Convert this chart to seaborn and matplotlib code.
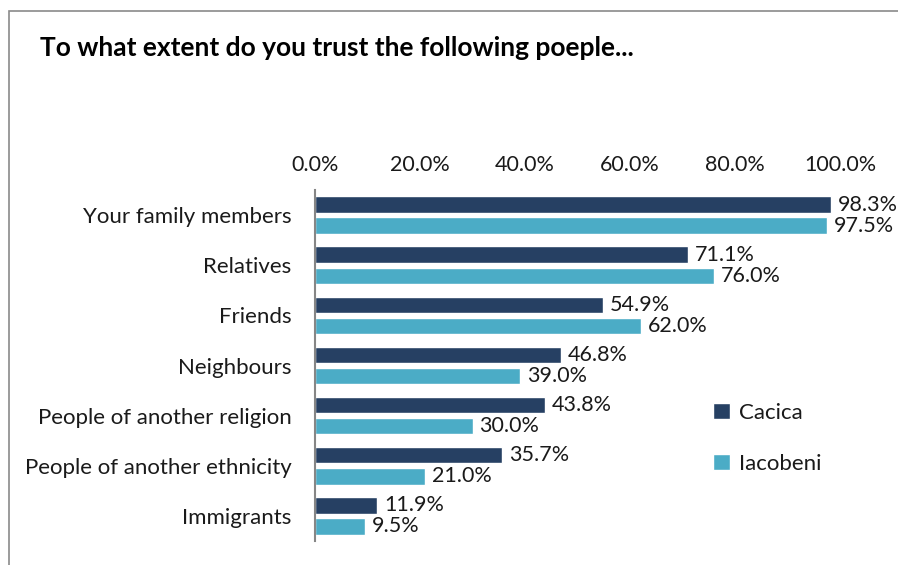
import matplotlib
matplotlib.use("Agg")
import matplotlib.pyplot as plt
import seaborn as sns
import pandas as pd
from matplotlib.patches import Rectangle

categories = ["Your family members", "Relatives", "Friends", "Neighbours",
              "People of another religion", "People of another ethnicity", "Immigrants"]
cacica = [98.3, 71.1, 54.9, 46.8, 43.8, 35.7, 11.9]
iacobeni = [97.5, 76.0, 62.0, 39.0, 30.0, 21.0, 9.5]
series = ["Cacica", "Iacobeni"]
colors = ["#264063", "#4BACC6"]
xticks = [0, 20, 40, 60, 80, 100]
title = "To what extent do you trust the following poeple..."

sns.set_theme(style="white")
plt.rcParams["font.family"] = ["Lato", "DejaVu Sans"]

df = pd.DataFrame({
    "category": categories * 2,
    "value": cacica + iacobeni,
    "series": [series[0]] * len(categories) + [series[1]] * len(categories),
})

fig = plt.figure(figsize=(8.98, 5.65), dpi=100)
ax = fig.add_axes([315 / 898, 1 - 541 / 565, (840 - 315) / 898, (541 - 190) / 565])

sns.barplot(data=df, y="category", x="value", hue="series", order=categories,
            hue_order=series, palette=colors, orient="h", width=0.84, gap=0.22,
            saturation=1, ax=ax, legend=True)

ax.set_xlim(0, 100)
ax.set_ylim(len(categories) - 0.5, -0.5)
ax.set_xticks(xticks)
ax.set_xticklabels([f"{v:.1f}%" for v in xticks])
ax.xaxis.tick_top()
ax.tick_params(axis="x", length=0, pad=11, labelsize=15.5, colors="#1a1a1a")
ax.tick_params(axis="y", length=0, pad=17, labelsize=16, colors="#1a1a1a")
ax.set_xlabel("")
ax.set_ylabel("")
for s in ["top", "right", "bottom"]:
    ax.spines[s].set_visible(False)
ax.spines["left"].set_color("#868686")
ax.spines["left"].set_linewidth(1.5)

for cont in ax.containers:
    ax.bar_label(cont, labels=[f"{b.get_width():.1f}%" for b in cont],
                 padding=5, fontsize=15.5, color="#1a1a1a")

leg = ax.legend(loc="upper left", bbox_to_anchor=(0.72, 0.45), frameon=False,
                fontsize=16, handlelength=0.75, handleheight=0.75, handletextpad=0.4,
                labelspacing=1.38)
for t in leg.get_texts():
    t.set_color("#1a1a1a")

fig.text(40 / 898, 1 - 48 / 565, title, fontsize=19, fontweight="bold",
         va="center", ha="left", color="black")

fig.add_artist(Rectangle((9 / 898, -0.1), 1.2, 1 - 11 / 565 + 0.1,
                         transform=fig.transFigure, fill=False,
                         edgecolor="#8a8a8a", linewidth=1.2))

fig.savefig("out.png", dpi=100)
